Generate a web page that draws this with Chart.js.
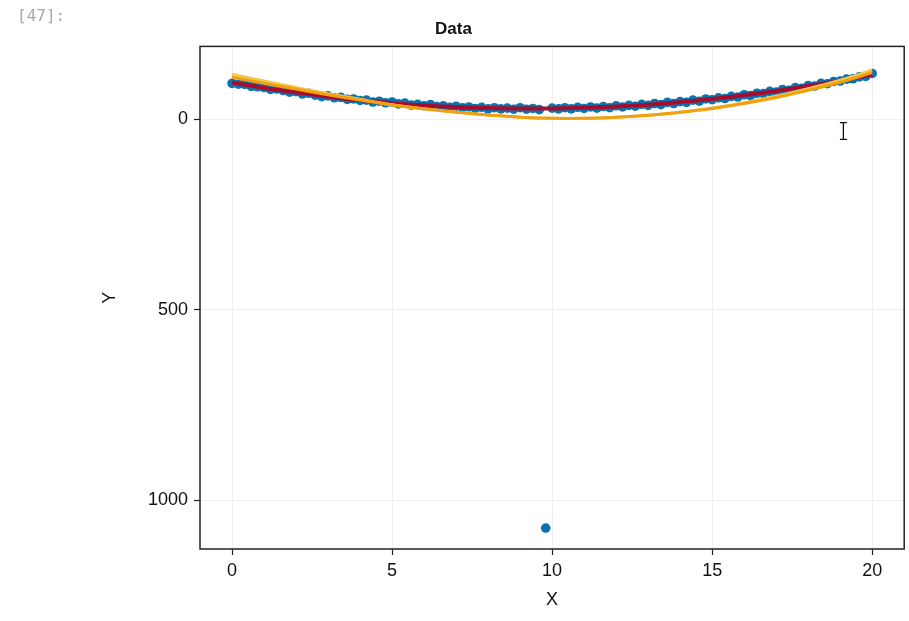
<!DOCTYPE html>
<html>
<head>
<meta charset="utf-8">
<script src="https://cdn.jsdelivr.net/npm/chart.js@4.4.1/dist/chart.umd.min.js"></script>
<style>
  body { margin: 0; background: #fff; }
  #wrap { position: relative; width: 909px; height: 621px; }
  #cell { position: absolute; left: 17px; top: 6px; font: 16px "DejaVu Sans Mono", monospace; color: #a8a8a8; }
</style>
</head>
<body>
<div id="wrap">
  <canvas id="myChart" width="909" height="621"></canvas>
  <div id="cell">[47]:</div>
</div>
<script>
// data
const dataX = [0, 0.2, 0.4, 0.6, 0.8, 1, 1.2, 1.4, 1.6, 1.8, 2, 2.2, 2.4, 2.6, 2.8, 3, 3.2, 3.4, 3.6, 3.8,
  4, 4.2, 4.4, 4.6, 4.8, 5, 5.2, 5.4, 5.6, 5.8, 6, 6.2, 6.4, 6.6, 6.8, 7, 7.2, 7.4, 7.6, 7.8,
  8, 8.2, 8.4, 8.6, 8.8, 9, 9.2, 9.4, 9.6, 9.8, 10, 10.2, 10.4, 10.6, 10.8, 11, 11.2, 11.4, 11.6, 11.8,
  12, 12.2, 12.4, 12.6, 12.8, 13, 13.2, 13.4, 13.6, 13.8, 14, 14.2, 14.4, 14.6, 14.8, 15, 15.2, 15.4, 15.6, 15.8,
  16, 16.2, 16.4, 16.6, 16.8, 17, 17.2, 17.4, 17.6, 17.8, 18, 18.2, 18.4, 18.6, 18.8, 19, 19.2, 19.4, 19.6, 19.8, 20];
const dataY = [-95, -93, -92, -87, -86, -84, -79, -80, -76, -72, -73, -67, -69, -64, -60, -62, -57, -58, -53, -54,
  -50, -51, -46, -48, -44, -46, -41, -43, -38, -40, -36, -39, -34, -36, -32, -35, -31, -33, -29, -32,
  -28, -31, -28, -30, -27, -31, -27, -29, -26, 1073, -30, -28, -31, -28, -32, -29, -33, -30, -34, -31,
  -36, -33, -37, -35, -40, -37, -42, -39, -45, -42, -47, -45, -51, -48, -54, -52, -57, -55, -61, -59,
  -65, -63, -69, -68, -74, -72, -79, -77, -84, -82, -89, -88, -95, -94, -100, -101, -106, -107, -112, -113, -121];

const fitX = [0, 1, 2, 3, 4, 5, 6, 7, 8, 9, 10, 11, 12, 13, 14, 15, 16, 17, 18, 19, 20];
const fitRed = [-97, -83, -71, -60, -51, -43, -37, -33, -30, -29, -29, -31, -34, -39, -46, -54, -64, -75, -88, -102, -118];
const fitOrange = [-111, -95, -80, -65, -51, -38, -28, -19, -12, -6, -3, -3, -6, -11, -19, -29, -42, -58, -77, -98, -123];
const fitYellow = [-119, -101, -84, -68, -53, -39, -28, -19, -12, -6, -3, -3, -6, -11, -19, -30, -44, -61, -81, -103, -130];

const errX = [19.1];
const errY = [30];
const errLow = [8];
const errHigh = [52];

const xTicks = [0, 5, 10, 15, 20];
const yTicks = [0, 500, 1000];

const pts = (xs, ys) => xs.map((x, i) => ({ x: x, y: ys[i] }));

const frame = {
  id: 'frame',
  afterDatasetsDraw(chart) {
    const { ctx, scales } = chart;
    const sx = scales.x, sy = scales.y;
    ctx.save();
    ctx.strokeStyle = '#111';
    ctx.lineWidth = 1.3;
    errX.forEach((x, i) => {
      const px = sx.getPixelForValue(x);
      const top = sy.getPixelForValue(errLow[i]);
      const bot = sy.getPixelForValue(errHigh[i]);
      ctx.beginPath();
      ctx.moveTo(px, top); ctx.lineTo(px, bot);
      ctx.moveTo(px - 3.5, top); ctx.lineTo(px + 3.5, top);
      ctx.moveTo(px - 3.5, bot); ctx.lineTo(px + 3.5, bot);
      ctx.stroke();
    });
    const a = chart.chartArea;
    ctx.strokeStyle = '#222';
    ctx.lineWidth = 1.5;
    ctx.strokeRect(a.left, a.top, a.right - a.left, a.bottom - a.top);
    ctx.restore();
  }
};

const fam = 'Liberation Sans, Arial, sans-serif';
const tickFont = { family: fam, size: 18 };
const gridStyle = { color: '#efefef', tickColor: '#222', tickLength: 6, tickWidth: 1.2, lineWidth: 1 };

new Chart(document.getElementById('myChart').getContext('2d'), {
  type: 'scatter',
  data: {
    datasets: [
      { type: 'line', data: pts(fitX, fitOrange), borderColor: '#f0a010', borderWidth: 3, pointRadius: 0, tension: 0.4, fill: false },
      { type: 'line', data: pts(fitX, fitYellow), borderColor: '#f6c94a', borderWidth: 3, pointRadius: 0, tension: 0.4, fill: false },
      { type: 'line', data: pts(fitX, fitRed), borderColor: '#a80c2c', borderWidth: 4, pointRadius: 0, tension: 0.4, fill: false },
      { data: pts(dataX, dataY), backgroundColor: '#0a72b0', borderWidth: 0, pointRadius: 4.8 }
    ]
  },
  options: {
    responsive: false,
    animation: false,
    layout: { padding: { left: 0, right: 2, top: 0, bottom: 0 } },
    plugins: {
      legend: { display: false },
      tooltip: { enabled: false },
      title: {
        display: true, text: 'Data', color: '#111',
        font: { family: fam, size: 17, weight: 'bold' },
        padding: { top: 19, bottom: 7 }
      }
    },
    scales: {
      x: {
        type: 'linear', min: -1, max: 21,
        grid: gridStyle,
        border: { display: false },
        afterBuildTicks: s => { s.ticks = xTicks.map(v => ({ value: v })); },
        afterFit: s => { s.height = 72; },
        ticks: { font: tickFont, color: '#111', padding: 5, maxRotation: 0, callback: v => String(v) },
        title: { display: true, text: 'X', color: '#111', font: { family: fam, size: 18 }, padding: { top: 0, bottom: 10 } }
      },
      y: {
        type: 'linear', min: -192, max: 1128, reverse: true,
        grid: gridStyle,
        border: { display: false },
        afterBuildTicks: s => { s.ticks = yTicks.map(v => ({ value: v })); },
        afterFit: s => { s.width = 200; },
        ticks: { font: tickFont, color: '#111', padding: 6, callback: v => String(v) },
        title: { display: true, text: 'Y', color: '#111', font: { family: fam, size: 18 }, padding: { top: 99, bottom: 0 } }
      }
    }
  },
  plugins: [frame]
});
</script>
</body>
</html>
